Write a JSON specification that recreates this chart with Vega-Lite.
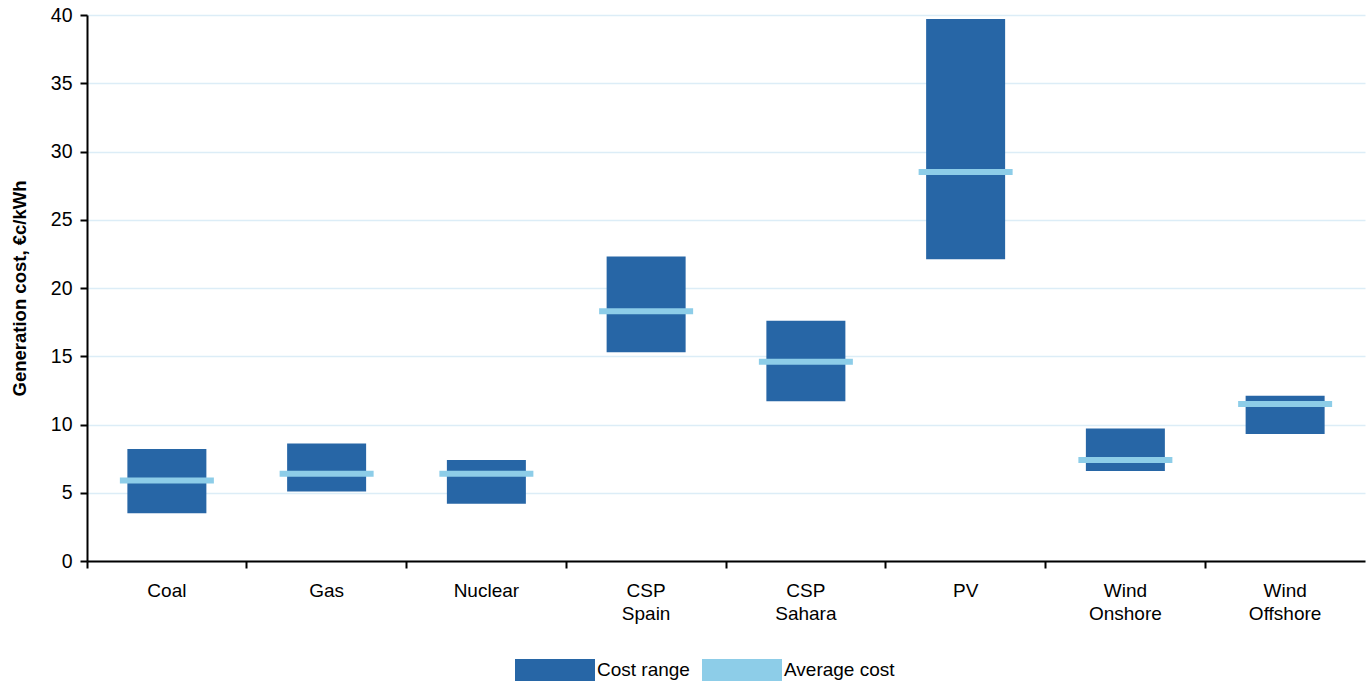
{
  "$schema": "https://vega.github.io/schema/vega-lite/v6.json",
  "autosize": {"type": "none"},
  "width": 1278,
  "height": 546,
  "padding": {"left": 87, "top": 15, "right": 5, "bottom": 123},
  "background": "white",
  "config": {
    "font": "Liberation Sans",
    "view": {"stroke": null}
  },
  "data": {
    "values": [
      {"tech": "Coal", "low": 3.5, "high": 8.2, "avg": 5.9},
      {"tech": "Gas", "low": 5.1, "high": 8.6, "avg": 6.4},
      {"tech": "Nuclear", "low": 4.2, "high": 7.4, "avg": 6.4},
      {"tech": "CSP Spain", "low": 15.3, "high": 22.3, "avg": 18.3},
      {"tech": "CSP Sahara", "low": 11.7, "high": 17.6, "avg": 14.6},
      {"tech": "PV", "low": 22.1, "high": 39.7, "avg": 28.5},
      {"tech": "Wind Onshore", "low": 6.6, "high": 9.7, "avg": 7.4},
      {"tech": "Wind Offshore", "low": 9.3, "high": 12.1, "avg": 11.5}
    ]
  },
  "encoding": {
    "x": {
      "field": "tech",
      "type": "nominal",
      "sort": null,
      "scale": {"paddingInner": 0, "paddingOuter": 0},
      "axis": {
        "title": null,
        "labelAngle": 0,
        "labelFontSize": 19,
        "labelColor": "#000000",
        "labelExpr": "split(datum.label, ' ')",
        "labelLineHeight": 23,
        "labelPadding": 13,
        "labelBaseline": "top",
        "bandPosition": 0,
        "tickColor": "#000000",
        "tickSize": 7,
        "tickWidth": 2,
        "domainColor": "#000000",
        "domainWidth": 2,
        "grid": false
      }
    }
  },
  "layer": [
    {
      "mark": {"type": "bar", "width": 79, "color": "#2766A6"},
      "encoding": {
        "y": {
          "field": "low",
          "type": "quantitative",
          "scale": {"domain": [0, 40], "nice": false},
          "axis": {
            "title": "Generation cost, €c/kWh",
            "titleFontSize": 18.5,
            "titleFontWeight": "bold",
            "titleColor": "#000000",
            "titlePadding": 21,
            "values": [0, 5, 10, 15, 20, 25, 30, 35, 40],
            "labelFontSize": 19.5,
            "labelColor": "#000000",
            "labelPadding": 8,
            "tickColor": "#000000",
            "tickSize": 7,
            "tickWidth": 2,
            "domainColor": "#000000",
            "domainWidth": 2,
            "grid": true,
            "gridColor": "#DCEDF7",
            "gridWidth": 1.5
          }
        },
        "y2": {"field": "high"},
        "fill": {
          "datum": "Cost range",
          "type": "nominal",
          "scale": {"domain": ["Cost range", "Average cost"], "range": ["#2766A6", "#8DCDE8"]},
          "legend": {
            "title": null,
            "orient": "none",
            "direction": "horizontal",
            "legendX": 428,
            "legendY": 615,
            "symbolType": "M-1,-0.275H1V0.275H-1Z",
            "symbolSize": 6400,
            "symbolStrokeWidth": 0,
            "symbolOpacity": 1,
            "labelFontSize": 19,
            "labelColor": "#000000",
            "labelOffset": 2,
            "columnPadding": 12
          }
        }
      }
    },
    {
      "mark": {"type": "tick", "orient": "horizontal", "size": 94, "thickness": 6, "color": "#8DCDE8", "opacity": 1},
      "encoding": {
        "y": {"field": "avg", "type": "quantitative"},
        "fill": {"datum": "Average cost", "type": "nominal"}
      }
    }
  ]
}
